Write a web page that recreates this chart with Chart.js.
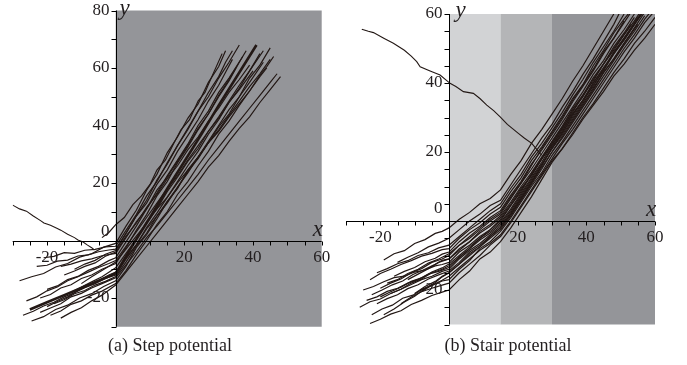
<!DOCTYPE html>
<html>
<head>
<meta charset="utf-8">
<script src="https://cdn.jsdelivr.net/npm/chart.js@4.4.1/dist/chart.umd.min.js"></script>
<style>
  html, body { margin: 0; padding: 0; background: #fff; }
  body { width: 687px; height: 365px; position: relative; overflow: hidden; }
  canvas { position: absolute; top: 0; }
  #step { left: 0; }
  #stair { left: 343px; }
</style>
</head>
<body>
<canvas id="step" width="343" height="365"></canvas>
<canvas id="stair" width="344" height="365"></canvas>
<script>
// paths are flat [x, y, x, y, ...] lists

// (a) step potential
const stepPaths = [
  [-4,1, -2,2.8, 0,5.5, 2.5,8, 5,12.5, 7.5,15.5, 10,19.5, 12,24.5, 14.5,28, 17,34, 19,38.5, 21.5,42, 24,48.5, 26,51.5, 28,57, 29.5,61, 31,65],
  [-28,-14, -24.5,-12.6, -21,-11.5, -17.5,-9.2, -14,-8, -10.5,-5.8, -7,-4.6, -3.5,-2.3, 0,-1, 3,5, 6,10.5, 9,17.5, 12,23, 15,30.5, 18,36, 21,42.5, 24,47.5, 27,55, 30,60.5, 32,66],
  [-21,-6, -18,-5.5, -15,-4.2, -12,-4.5, -9,-3.4, -6,-3.1, -3,-2.2, 0,-2, 3,3.5, 6,9, 9,15.5, 12,20.5, 15,27, 18,33, 21,38.5, 24,45, 27,50, 30,56.5, 33,62, 36,68],
  [-23,-9, -20,-8.6, -17,-7.2, -14,-6.8, -11,-5.4, -8,-5, -5,-3.9, -2,-3.3, 0,-3, 3,2.5, 6,8.5, 9,13, 12,19.5, 15,24.5, 18,31, 21,36.5, 24,42, 27,48.5, 30,54, 32,58.5, 34,63],
  [-16,-9, -13,-8.2, -10,-7.1, -7,-6.4, -4,-5.3, 0,-4.5, 3,1, 6,6.5, 9,11, 12,17.5, 15,22, 18,27.5, 21,33, 24,39, 27,44, 30,50.5, 33,56, 35,60],
  [-24.5,-28, -21,-26.5, -17.5,-24, -14,-22.5, -10.5,-20, -7,-18.5, -3.5,-16, 0,-14, 3,-9, 6,-2.5, 9,2, 12,7.5, 15,13.5, 18,18, 21,24.5, 24,29, 27,34.5, 30,40, 33,45.5, 36,50, 39,56.5, 42,61, 45,67],
  [-22,-20, -19,-18.8, -16,-16.5, -13,-15.4, -10,-13.2, -7,-12, -4,-10, 0,-8, 3,-2.5, 6,3.5, 9,9, 12,15.5, 15,20.5, 18,27, 21,32.5, 24,38.5, 27,44, 30,50, 33,55.5, 36,62, 38,66],
  [-20,-17, -17,-15.8, -14,-13.6, -11,-12.5, -8,-10.4, -5,-9, -2,-7, 0,-6, 3,-0.5, 6,5, 9,11, 12,16.5, 15,22.5, 18,28, 21,33.5, 24,40, 27,45, 30,51.5, 33,56.5, 37,64],
  [-19,-26, -16,-24.5, -13,-22.2, -10,-21, -7,-19, -4,-17.6, 0,-15, 3,-10.5, 6,-5, 9,0, 12,5.5, 15,10, 18,16, 21,20.5, 24,26, 27,31, 30,37, 33,41.5, 36,47, 39,52, 42,57.5, 44,60.5, 46,64],
  [-15,-12, -12,-10.6, -9,-9, -6,-7.8, -3,-5.5, 0,-4, 3,1.5, 6,6, 9,11.5, 12,16, 15,21.5, 18,26, 21,31.5, 24,36, 27,41.5, 30,46, 33,51.5, 36,56, 39,61],
  [-13,-18, -10,-16.2, -7,-14.4, -4,-12.6, 0,-9.5, 3,-4.5, 6,0.5, 9,6.5, 12,11, 15,17, 18,22, 21,27.5, 24,32, 27,38, 30,43, 33,48.5, 36,54, 39,59, 42,65],
  [-18,-22, -15,-20.6, -12,-18.5, -9,-17.4, -6,-15.5, -3,-14.2, 0,-12.5, 3,-7.5, 6,-2, 9,2.5, 12,8.5, 15,13, 18,18.5, 21,23.5, 24,29, 27,34, 30,39.5, 33,44, 36,50, 39,55, 43,62],
  [-12,-10, -9,-8.2, -6,-6.9, -3,-4.8, 0,-3.5, 3,2.5, 6,8.5, 9,14, 12,21, 15,26.5, 18,33, 21,39, 24,45, 27,51.5, 30,57, 32,62, 34,66],
  [-26,-21, -23,-19.6, -20,-17.5, -17,-16.2, -14,-14, -11,-12.6, -8,-11, -5,-9.4, -2,-8, 0,-7, 3,-2, 6,3, 9,8, 12,13, 15,18, 18,22.5, 21,28, 24,33, 27,38, 30,42.5, 33,48, 36,52.5, 40,59],
  [-22,-25, -19,-23.5, -16,-22, -13,-19.6, -10,-18.4, -7,-16.5, -4,-15, 0,-13, 3,-8.5, 6,-4, 9,1, 12,5, 15,9.5, 18,14, 21,18.5, 24,23, 27,28, 30,32.5, 33,37, 36,41.5, 39,46, 42,50.5, 45,55, 47,58],
  [-16,-27, -13,-25, -10,-23.4, -7,-21, -4,-19, 0,-15.5, 3,-11, 6,-6.5, 9,-2, 12,2.5, 15,7, 18,11.5, 21,16, 24,20.5, 27,25.5, 30,29.5, 33,34.5, 36,39, 39,43, 42,48, 45,52.5, 48,57],
  [-10,-15, -7,-12.6, -4,-10.4, 0,-7.5, 3,-3, 6,1.5, 9,6, 12,11, 15,15, 18,20, 21,24.5, 24,29, 27,34, 30,38, 33,43, 36,47.5, 39,52, 42,57, 44,60],
  [-20,-23, -17,-21.2, -14,-19.6, -11,-17.4, -8,-15.6, -5,-14, -2,-12, 0,-11, 3,-6, 6,-1.5, 9,4, 12,8.5, 15,13.5, 18,18.5, 21,24, 24,28.5, 27,34, 30,38.5, 33,43.5, 36,48.5, 39,53.5, 42,58, 45,63],
  [-27,-26, -24,-24.6, -21,-22.8, -18,-21.5, -15,-19.6, -12,-18.2, -9,-16.4, -6,-15, -3,-13.2, 0,-12, 3,-6.5, 6,-1.5, 9,4.5, 12,9.5, 15,15, 18,20.5, 21,26, 24,31, 27,37, 30,42, 33,48, 36,53, 39,59, 43,66]
];
const stepMean = [-25,-24, -20,-21.5, -15,-19, -10,-16.5, -5,-14, 0,-11.5, 5,-1.5, 10,8, 15,18, 20,27.5, 25,37, 30,47, 35,56.5, 41,68];
const stepReflected = [-30,12.3, -28,11, -26,10.2, -24,8.5, -22,7, -20.9,6.1, -19,5.3, -17,4.2, -16,3.6, -14,2.2, -12,1, -11,0.2, -9.5,-0.5, -8.2,-1.6, -7,-2.5, -6.2,-3.3];
const stepBandEdges = [0, 60];
const stepYLabels = [-20, 0, 20, 40, 60, 80];

// (b) stair potential
const stairPaths = [
  [-19,-11.3, -16,-9.5, -13,-8.6, -10,-6.5, -7,-5.4, -4,-3.6, -2,-3, 0,-2, 3,0.5, 6,2.5, 9,5, 12,6.5, 15,9, 18,13.5, 21,17.5, 24,22.5, 27,26.5, 30,31, 33,35.5, 36,40.5, 39,45, 42,50, 45,55, 48,60],
  [-23,-17, -20,-15.2, -17,-14, -14,-12.6, -11,-11.5, -8,-10.2, -5,-9.4, -2,-8.3, 0,-8, 3,-5, 6,-2.5, 9,-0.5, 12,2, 15,4, 18,8.5, 21,12.5, 24,17.5, 27,21.5, 30,26, 33,30.5, 36,35.5, 39,39.5, 42,45, 45,49.5, 48,54.5, 51,58.5, 53,61],
  [-20,-19.5, -17,-18, -14,-16.8, -11,-15, -8,-13.8, -5,-12, -2,-11, 0,-10, 3,-7, 6,-5, 9,-2.5, 12,0, 15,2, 18,6.5, 21,11, 24,15, 27,19.5, 30,24, 33,28.5, 36,33, 39,37.5, 42,42.5, 45,46.5, 48,51.5, 51,55.5, 54,60],
  [-22.5,-21.4, -19.5,-20, -16.5,-18.5, -13.5,-17.4, -10.5,-15.5, -7.5,-14.2, -4.5,-12.8, -2,-11.4, 0,-11, 3,-8.5, 6,-6, 9,-3.5, 12,-1.5, 15,1, 18,5, 21,9.5, 24,13, 27,18, 30,22, 33,26.5, 36,31, 39,35, 42,40, 45,44, 48,49, 51,53, 55,59],
  [-22.5,-27.2, -19.5,-25.5, -16.5,-24.4, -13.5,-22.4, -10.5,-21.5, -7.5,-19.6, -4.5,-18.5, -2,-17.4, 0,-17, 3,-14, 6,-11.5, 9,-8, 12,-6, 15,-3, 18,1, 21,5.5, 24,10, 27,14, 30,19, 33,23, 36,27.5, 39,32, 42,36.5, 45,41, 48,45.5, 51,50, 54,54, 57,58.5, 59,61],
  [-23,-29.7, -20,-28.5, -17,-27, -14,-26, -11,-24.2, -8,-23, -5,-21.6, -2,-20.6, 0,-20, 3,-17, 6,-14.5, 9,-11, 12,-9, 15,-6, 18,-2, 21,2.5, 24,7, 27,12, 30,17, 33,21, 36,25.5, 39,30, 42,34, 45,38.5, 48,43, 51,47, 54,51.5, 57,55, 60,59],
  [-19,-27.2, -16,-25.5, -13,-23.5, -10,-21.8, -7,-19.6, -4,-17.8, -2,-16.2, 0,-15, 3,-12.5, 6,-10, 9,-7.5, 12,-4.5, 15,-2, 18,2, 21,6.5, 24,11, 27,15.5, 30,20, 33,24.5, 36,29, 39,33.5, 42,38, 45,43, 48,47, 51,51.5, 54,56, 57,60.5],
  [-25,-20, -22,-19, -19,-17.6, -16,-16.4, -13,-16, -10,-14.8, -7,-14.2, -4,-13, -2,-12.6, 0,-12, 3,-9, 6,-7, 9,-4.5, 12,-2.5, 15,0, 18,4.5, 21,8.5, 24,13.5, 27,18, 30,23, 33,27, 36,32, 39,36, 42,41, 45,45.5, 48,49.5, 51,54, 54,58, 56,61],
  [-21,-15, -18,-13.8, -15,-12.4, -12,-11.5, -9,-10, -6,-9.2, -3,-7.8, 0,-7, 3,-4.5, 6,-2, 9,0.5, 12,3, 15,5, 18,9.5, 21,13.5, 24,18.5, 27,22.5, 30,27, 33,31.5, 36,36.5, 39,41, 42,46, 45,50.5, 48,55, 51,60],
  [-17,-21, -14,-19.8, -11,-18, -8,-16.8, -5,-15, -2,-14, 0,-13, 3,-10.5, 6,-8, 9,-5.5, 12,-3.5, 15,-1, 18,3, 21,7.5, 24,12, 27,16.5, 30,21, 33,25.5, 36,30, 39,34.5, 42,39.5, 45,43.5, 48,48.5, 51,52.5, 54,57, 56,60.5],
  [-24,-23, -21,-22, -18,-20.4, -15,-19.5, -12,-18, -9,-17, -6,-15.4, -3,-14.6, 0,-13.5, 3,-10.5, 6,-8, 9,-5, 12,-2.5, 15,0.5, 18,4.5, 21,9, 24,13.5, 27,18, 30,22.5, 33,27, 36,31.5, 39,36.5, 42,40.5, 45,45.5, 48,50, 51,54, 53,57],
  [-16,-16, -13,-14.6, -10,-13.5, -7,-11.8, -4,-10.8, -2,-9.6, 0,-9, 3,-6, 6,-3.5, 9,-1.5, 12,1, 15,3, 18,7.5, 21,11.5, 24,16.5, 27,20.5, 30,25, 33,29.5, 36,34.5, 39,39, 42,43.5, 45,48.5, 48,53, 51,58],
  [-14,-24, -11,-22, -8,-20.5, -5,-18.6, -2,-17.2, 0,-16, 3,-13.5, 6,-11, 9,-8.5, 12,-6.5, 15,-4, 18,0, 21,4.5, 24,9, 27,13.5, 30,18, 33,22.5, 36,26.5, 39,31, 42,35.5, 45,40, 48,44.5, 51,49, 54,53, 57,57.5, 60,61],
  [-26,-25, -23,-23.4, -20,-22.6, -17,-21, -14,-19.8, -11,-18.4, -8,-17, -5,-16, -2,-14.6, 0,-14, 3,-11, 6,-8.5, 9,-6.5, 12,-4, 15,-1.5, 18,2.5, 21,7, 24,11.5, 27,16, 30,21, 33,25, 36,29.5, 39,34, 42,38.5, 45,43, 48,47, 51,51.5, 55,57],
  [-18,-18, -15,-17, -12,-15.2, -9,-14, -6,-12.2, -3,-11, 0,-9.5, 3,-7, 6,-4.5, 9,-2, 12,0.5, 15,2.5, 18,7, 21,11, 24,16, 27,21, 30,25.5, 33,30, 36,35, 39,39.5, 42,44, 45,49, 48,53, 51,57.5, 53,60.5],
  [-12,-17, -9,-15.4, -6,-13.8, -3,-12, 0,-11, 3,-8, 6,-6, 9,-3, 12,-1, 15,1.5, 18,5.5, 21,10, 24,14, 27,18.5, 30,23, 33,27.5, 36,32.5, 39,36.5, 42,41.5, 45,45.5, 48,50.5, 51,54.5, 54,59],
  [-20,-22, -17,-20.5, -14,-19.2, -11,-17.5, -8,-16.5, -5,-14.8, -2,-13.6, 0,-12.5, 3,-10, 6,-7.5, 9,-5, 12,-3, 15,-0.5, 18,3.5, 21,8, 24,12.5, 27,17, 30,22, 33,26, 36,31, 39,35, 42,40, 45,44.5, 48,48.5, 51,53, 54,57, 56,60],
  [-10,-21, -7,-19, -4,-17.5, -2,-16, 0,-15, 3,-12.5, 6,-9.5, 9,-7.5, 12,-5, 15,-2.5, 18,1.5, 21,6, 24,10.5, 27,15, 30,20, 33,24, 36,28.5, 39,33, 42,37.5, 45,42, 48,46.5, 51,51, 54,55, 57,59.5],
  [-15,-12, -12,-10.5, -9,-9.2, -6,-7.5, -3,-6.4, 0,-5, 3,-2.5, 6,0, 9,2, 12,4.5, 15,6, 18,10.5, 21,15, 24,19.5, 27,24, 30,28, 33,33, 36,37.5, 39,42.5, 42,47, 45,52, 48,57, 50,61],
  [-21,-24, -18,-22.5, -15,-21.4, -12,-19.6, -9,-18.5, -6,-16.8, -3,-15.6, 0,-14.5, 3,-12, 6,-9, 9,-7, 12,-4.5, 15,-2, 18,2, 21,6.5, 24,11, 27,16, 30,21.5, 33,25.5, 36,30.5, 39,35, 42,39, 45,44, 48,48.5, 51,52.5, 54,57, 57,61],
  [-8,-20.5, -5,-19.5, -2,-18.6, 0,-18, 3,-15, 6,-12.5, 9,-10, 12,-7, 15,-4.5, 18,-0.5, 21,4, 24,8.5, 27,13, 30,17.5, 33,21, 36,25, 39,29.5, 42,33.5, 45,37.5, 48,42, 51,45.5, 54,49.5, 57,53, 60,57]
];
const stairReflected = [-25.4,55.6, -23.5,55, -22,54.6, -19,53, -16.2,51.5, -13,49.5, -11,47.8, -9.4,46.2, -8.4,44.7, -5.5,43.5, -2.6,42.3, 0.3,39.9, 2,39, 4.2,37.5, 7.1,37, 9,35.5, 11,33.6, 13,32, 14.9,30.2, 17,28, 20.2,25.4, 22,24, 24.1,22.5, 26.5,19.6, 27,19.1];
const stairBandEdges = [0, 15, 30, 60];
const stairYLabels = [-20, 0, 20, 40, 60];

const xLabels = [-20, 20, 40, 60];
const captions = ['(a) Step potential', '(b) Stair potential'];

const INK = '#231815';
const TEXT = '#231f20';
const SERIF = "'Liberation Serif', 'Times New Roman', serif";

function toPoints(flat) {
  let points = [];
  for (let i = 0; i < flat.length; i += 2) {
    points.push({ x: flat[i], y: flat[i + 1] });
  }
  return points;
}

// Maple-like axes through the origin; the numbers sit under the paths, the axis lines over them
function axesPlugin(cfg) {
  return {
    id: 'mapleAxes',
    beforeDatasetsDraw(chart) {
      const { ctx, chartArea: a, scales: { x, y } } = chart;
      const x0 = Math.round(x.getPixelForValue(0)) + 0.5;
      const y0 = Math.round(y.getPixelForValue(0)) + 0.5;

      ctx.save();
      for (let i = 0; i < cfg.bands.length - 1; i++) {
        const l = x.getPixelForValue(cfg.bands[i]);
        const r = x.getPixelForValue(cfg.bands[i + 1]);
        ctx.fillStyle = cfg.bandColors[i];
        ctx.fillRect(l, a.top, r - l, a.bottom - a.top);
      }

      ctx.fillStyle = TEXT;
      ctx.font = '17px ' + SERIF;
      ctx.textAlign = 'center';
      ctx.textBaseline = 'middle';
      for (const v of xLabels) {
        ctx.fillText(String(v), x.getPixelForValue(v), y0 + 16);
      }
      ctx.textAlign = 'right';
      for (const v of cfg.yLabels) {
        const shift = v === 0 ? cfg.zeroShift : 0;
        ctx.fillText(String(v), x0 - 7, y.getPixelForValue(v) + shift);
      }

      ctx.font = '18px ' + SERIF;
      ctx.textAlign = 'center';
      ctx.fillText(cfg.caption, cfg.captionX, 346);
      ctx.restore();
    },
    afterDatasetsDraw(chart) {
      const { ctx, scales: { x, y } } = chart;
      const x0 = Math.round(x.getPixelForValue(0)) + 0.5;
      const y0 = Math.round(y.getPixelForValue(0)) + 0.5;

      ctx.save();
      ctx.strokeStyle = '#000';
      ctx.lineWidth = 1;
      ctx.beginPath();
      ctx.moveTo(x.left, y0);
      ctx.lineTo(x.right, y0);
      ctx.moveTo(x0, y.bottom);
      ctx.lineTo(x0, y.top);
      for (let v = x.min; v <= x.max; v += 5) {
        const px = Math.round(x.getPixelForValue(v)) + 0.5;
        ctx.moveTo(px, y0);
        ctx.lineTo(px, y0 + 4);
      }
      for (let v = y.min; v <= y.max; v += cfg.yStep) {
        const py = Math.round(y.getPixelForValue(v)) + 0.5;
        ctx.moveTo(x0 - 5, py);
        ctx.lineTo(x0, py);
      }
      ctx.stroke();

      ctx.fillStyle = TEXT;
      ctx.font = 'italic 23px ' + SERIF;
      ctx.textAlign = 'left';
      ctx.textBaseline = 'alphabetic';
      ctx.fillText('x', x.right - 9, y0 - 6);
      ctx.fillText('y', x0 + cfg.yNameDx, y.top + cfg.yNameDy);
      ctx.restore();
    }
  };
}

function panel(id, cfg) {
  let datasets = cfg.paths.map(p => ({ data: toPoints(p), borderWidth: 1.2 }));
  if (cfg.mean) {
    datasets.push({ data: toPoints(cfg.mean), borderWidth: 2.6 });
  }
  datasets.push({ data: toPoints(cfg.reflected), borderWidth: 1.1 });
  datasets.forEach(d => Object.assign(d, {
    showLine: true, borderColor: INK, pointRadius: 0, pointHoverRadius: 0, tension: 0, fill: false,
  }));

  return new Chart(document.getElementById(id), {
    type: 'scatter',
    data: { datasets },
    options: {
      responsive: false,
      animation: false,
      events: [],
      layout: { padding: cfg.padding },
      scales: {
        x: { type: 'linear', min: -30, max: 60, display: false },
        y: { type: 'linear', min: -30, max: cfg.yMax, display: false },
      },
      plugins: { legend: { display: false }, tooltip: { enabled: false } },
    },
    plugins: [axesPlugin(cfg)],
  });
}

panel('step', {
  paths: stepPaths, mean: stepMean, reflected: stepReflected,
  bands: stepBandEdges, bandColors: ['#949599'],
  yMax: 80, yStep: 10, yLabels: stepYLabels, zeroShift: -9,
  yNameDx: 3, yNameDy: 4,
  padding: { left: 12.7, right: 21.3, top: 10.5, bottom: 38.25 },
  caption: captions[0], captionX: 170,
});

panel('stair', {
  paths: stairPaths, reflected: stairReflected,
  bands: stairBandEdges, bandColors: ['#d2d3d5', '#b4b5b7', '#949599'],
  yMax: 60, yStep: 5, yLabels: stairYLabels, zeroShift: -12,
  yNameDx: 6, yNameDy: 3,
  padding: { left: 3, right: 32, top: 14, bottom: 40.5 },
  caption: captions[1], captionX: 165,
});
</script>
</body>
</html>
